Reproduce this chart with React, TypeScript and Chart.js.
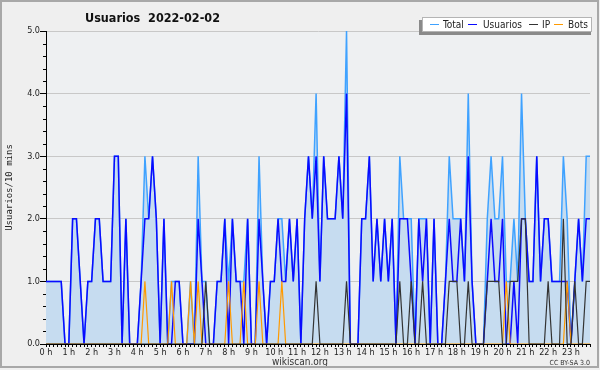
import React, { useEffect, useRef } from 'react';
import { Chart, registerables } from 'chart.js';

Chart.register(...registerables);

// 144 ten-minute slots (0:00 .. 23:50)
const slots: string[] = [];
for (let h = 0; h < 24; h++) for (let m = 0; m < 60; m += 10) slots.push(`${h}:${m}`);

const hourLabels = ['0 h','1 h','2 h','3 h','4 h','5 h','6 h','7 h','8 h','9 h','10 h','11 h','12 h','13 h','14 h','15 h','16 h','17 h','18 h','19 h','20 h','21 h','22 h','23 h'];
const yTickLabels = ['0.0', '1.0', '2.0', '3.0', '4.0', '5.0'];

const total = [
  1,1,1,1,1,0,0,2,2,1, 0,1,1,2,2,1,1,1,3,3, 0,2,0,0,0,1,3,2,3,2,
  0,2,0,1,1,1,0,0,1,0, 3,1,1,0,0,1,1,2,1,2, 1,1,1,2,0,0,3,1,0,1,
  1,2,2,1,2,1,2,0,2,3, 2,4,1,3,2,2,2,3,2,5, 0,0,0,2,2,3,1,2,1,2,
  1,2,0,3,2,2,2,0,2,2, 2,0,2,0,0,1,3,2,2,2, 1,4,1,0,0,0,2,3,2,2,
  3,1,1,2,1,4,2,1,1,3, 1,2,2,1,1,1,3,2,0,1, 2,1,3,3,
];
const usuarios = [
  1,1,1,1,1,0,0,2,2,1, 0,1,1,2,2,1,1,1,3,3, 0,2,0,0,0,1,2,2,3,2,
  0,2,0,0,1,1,0,0,0,0, 2,1,0,0,0,1,1,2,0,2, 1,1,0,2,0,0,2,1,0,1,
  1,2,1,1,2,1,2,0,2,3, 2,3,1,3,2,2,2,3,2,4, 0,0,0,2,2,3,1,2,1,2,
  1,2,0,2,2,2,1,0,2,1, 2,0,2,0,0,1,2,1,1,2, 1,3,1,0,0,0,1,2,1,1,
  2,0,0,1,0,2,2,1,1,3, 1,2,2,1,1,1,1,1,0,1, 2,1,2,2,
];
const ip = [
  0,0,0,0,0,0,0,0,0,0, 0,0,0,0,0,0,0,0,0,0, 0,0,0,0,0,0,0,0,0,0,
  0,0,0,0,0,0,0,0,0,0, 0,0,1,0,0,0,0,0,0,0, 0,0,0,0,0,0,0,0,0,0,
  0,0,0,0,0,0,0,0,0,0, 0,1,0,0,0,0,0,0,0,1, 0,0,0,0,0,0,0,0,0,0,
  0,0,0,1,0,0,1,0,0,1, 0,0,0,0,0,0,1,1,1,0, 0,1,0,0,0,0,1,1,1,1,
  0,0,1,1,1,2,2,0,0,0, 0,0,1,0,0,0,2,0,0,1, 0,0,1,1,
];
const bots = [
  0,0,0,0,0,0,0,0,0,0, 0,0,0,0,0,0,0,0,0,0, 0,0,0,0,0,0,1,0,0,0,
  0,0,0,1,0,0,0,0,1,0, 1,0,0,0,0,0,0,0,1,0, 0,0,1,0,0,0,1,0,0,0,
  0,0,1,0,0,0,0,0,0,0, 0,0,0,0,0,0,0,0,0,0, 0,0,0,0,0,0,0,0,0,0,
  0,0,0,0,0,0,0,0,0,0, 0,0,0,0,0,0,0,0,0,0, 0,0,0,0,0,0,0,0,0,0,
  0,1,0,0,0,0,0,0,0,0, 0,0,0,0,0,0,0,1,0,0, 0,0,0,0,
];

const seriesNames = ['Total', 'Usuarios', 'IP', 'Bots'];
const seriesColors = ['#3fa2ff', '#0a0aff', '#333333', '#ff9a00'];
const fillColor = '#c6dcf0';
const titleText = 'Usuarios  2022-02-02';
const yTitle = 'Usuarios/10 mins';

const COND = "'DejaVu Sans Condensed', 'DejaVu Sans', sans-serif";

const decorPlugin = {
  id: 'decor',
  beforeDraw(chart: any) {
    const { ctx, chartArea } = chart;
    ctx.save();
    ctx.fillStyle = '#efefef';
    ctx.fillRect(0, 0, chart.width, chart.height);
    ctx.fillStyle = '#eef0f2';
    ctx.fillRect(chartArea.left, chartArea.top, chartArea.right - chartArea.left, chartArea.bottom - chartArea.top);
    ctx.restore();
  },
  afterDraw(chart: any) {
    const { ctx, chartArea } = chart;
    const yScale = chart.scales.y;
    ctx.save();
    // minor y ticks
    ctx.strokeStyle = '#000';
    ctx.lineWidth = 1;
    for (let k = 1; k < 25; k++) {
      if (k % 5 === 0) continue;
      const y = Math.round(yScale.getPixelForValue(k * 0.2)) + 0.5;
      ctx.beginPath();
      ctx.moveTo(chartArea.left - 3, y);
      ctx.lineTo(chartArea.left, y);
      ctx.stroke();
    }
    // title
    ctx.fillStyle = '#111';
    ctx.font = `bold 12.5px ${COND}`;
    ctx.textBaseline = 'alphabetic';
    ctx.textAlign = 'left';
    ctx.fillText(titleText, 85, 22);
    // y title
    ctx.save();
    ctx.translate(12, (chartArea.top + chartArea.bottom) / 2);
    ctx.rotate(-Math.PI / 2);
    ctx.textAlign = 'center';
    ctx.font = "9px 'DejaVu Sans Mono', monospace";
    ctx.fillStyle = '#222';
    ctx.fillText(yTitle, 0, 0);
    ctx.restore();
    // legend
    ctx.fillStyle = '#8a8a8a';
    ctx.fillRect(419, 20, 172, 15);
    ctx.fillStyle = '#ffffff';
    ctx.fillRect(422, 17, 170, 15);
    ctx.strokeStyle = '#b4b4b4';
    ctx.lineWidth = 1;
    ctx.strokeRect(422.5, 17.5, 169, 14);
    const lineX = [430, 468, 529, 554];
    const textX = [443, 483, 542, 568];
    ctx.font = `10px ${COND}`;
    for (let s = 0; s < 4; s++) {
      ctx.strokeStyle = seriesColors[s];
      ctx.lineWidth = 1;
      ctx.beginPath();
      ctx.moveTo(lineX[s], 24.5);
      ctx.lineTo(lineX[s] + 9, 24.5);
      ctx.stroke();
      ctx.fillStyle = '#222';
      ctx.fillText(seriesNames[s], textX[s], 28);
    }
    // credits
    ctx.fillStyle = '#333';
    ctx.font = `10px ${COND}`;
    ctx.textAlign = 'center';
    ctx.fillText('wikiscan.org', 300, 365);
    ctx.font = `7px ${COND}`;
    ctx.textAlign = 'right';
    ctx.fillText('CC BY-SA 3.0', 590, 365);
    // outer frame
    ctx.strokeStyle = '#a8a8a8';
    ctx.lineWidth = 2;
    ctx.strokeRect(1, 1, 597, 366);
    ctx.restore();
  },
};

export default function App() {
  const ref = useRef<HTMLCanvasElement | null>(null);
  useEffect(() => {
    if (!ref.current) return;
    const chart = new Chart(ref.current, {
      type: 'line',
      data: {
        labels: slots,
        datasets: [
          { label: seriesNames[0], data: total, borderColor: seriesColors[0], backgroundColor: fillColor, fill: 'origin', borderWidth: 1.5, pointRadius: 0, tension: 0, order: 4 },
          { label: seriesNames[1], data: usuarios, borderColor: seriesColors[1], borderWidth: 1.5, pointRadius: 0, tension: 0, fill: false, order: 3 },
          { label: seriesNames[3], data: bots, borderColor: seriesColors[3], borderWidth: 1.2, pointRadius: 0, tension: 0, fill: false, order: 2 },
          { label: seriesNames[2], data: ip, borderColor: seriesColors[2], borderWidth: 1.2, pointRadius: 0, tension: 0, fill: false, order: 1 },
        ],
      },
      options: {
        responsive: false,
        animation: false,
        devicePixelRatio: 1,
        layout: { padding: { top: 31, right: 10, bottom: 0, left: 0 } },
        plugins: { legend: { display: false }, title: { display: false }, tooltip: { enabled: false } },
        scales: {
          x: {
            type: 'category',
            offset: false,
            afterFit: (s: any) => { s.height = 26; },
            grid: { drawOnChartArea: false, drawTicks: true, tickLength: 3, tickColor: '#000', lineWidth: 1 },
            border: { color: '#000', width: 1 },
            ticks: {
              autoSkip: false, maxRotation: 0, minRotation: 0, padding: 0,
              color: '#222', font: { family: COND, size: 9 },
              callback: (_v: any, i: number) => (i % 6 === 0 ? hourLabels[i / 6] : ''),
            },
          },
          y: {
            min: 0, max: 5,
            afterFit: (s: any) => { s.width = 46; },
            grid: { color: '#c8c8c8', tickColor: '#000', tickLength: 6, lineWidth: 1 },
            border: { color: '#000', width: 1 },
            ticks: {
              stepSize: 1, padding: 0, color: '#222', font: { family: COND, size: 9 },
              callback: (_v: any, i: number) => yTickLabels[i],
            },
          },
        },
      },
      plugins: [decorPlugin],
    });
    return () => chart.destroy();
  }, []);
  return (
    <div style={{ position: 'absolute', left: 0, top: 0, width: 600, height: 370 }}>
      <canvas ref={ref} width={600} height={370} />
    </div>
  );
}
